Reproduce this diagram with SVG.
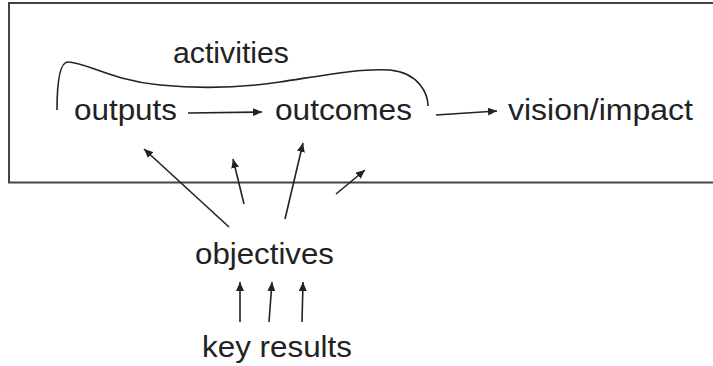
<svg xmlns="http://www.w3.org/2000/svg" width="713" height="366" viewBox="0 0 713 366">
<defs>
<marker id="ah" markerWidth="10" markerHeight="8" refX="9" refY="4" orient="auto" markerUnits="userSpaceOnUse">
<path d="M0,0 L9,4 L0,8 z" fill="#222"/>
</marker>
<style>
text{font-family:"Liberation Sans",Arial,sans-serif;font-size:29.5px;fill:#222}
.c{fill:none;stroke:#222;stroke-width:1.6}
.a{fill:none;stroke:#222;stroke-width:1.6;marker-end:url(#ah)}
.frame{fill:none;stroke:#444;stroke-width:2}
</style>
</defs>
<rect width="713" height="366" fill="#fff"/>
<path class="frame" d="M716,3 L9,3 L9,182.5 L716,182.5"/>
<g id="activities"><text x="173" y="63" textLength="116" lengthAdjust="spacingAndGlyphs">activities</text>
<path class="c" d="M57,110 C57,90 58,62 68,62 C85,62 110,80 160,85 C200,89 240,88 280,82 C320,76 360,68 390,70 C420,73 428,95 428,106"/></g>
<g id="outputs"><text x="74" y="119.5" textLength="103" lengthAdjust="spacingAndGlyphs">outputs</text></g>
<g id="outcomes"><text x="275" y="119.5" textLength="137" lengthAdjust="spacingAndGlyphs">outcomes</text></g>
<g id="vision"><text x="508" y="120" textLength="185" lengthAdjust="spacingAndGlyphs">vision/impact</text></g>
<g id="objectives"><text x="195" y="264" textLength="139" lengthAdjust="spacingAndGlyphs">objectives</text></g>
<g id="keyresults"><text x="202" y="356.5" textLength="150" lengthAdjust="spacingAndGlyphs">key results</text></g>
<g id="connectors">
<path class="a" d="M188,113 L262,112"/>
<path class="a" d="M436,115 L497,111"/>
<path class="a" d="M229,227 L144,149"/>
<path class="a" d="M244,204 L233,159"/>
<path class="a" d="M285,219 L303,143"/>
<path class="a" d="M336,194 L365,170"/>
<path class="a" d="M240,322 L240,282"/>
<path class="a" d="M269,322 L272,282"/>
<path class="a" d="M302,322 L303,282"/>
</g>
</svg>
